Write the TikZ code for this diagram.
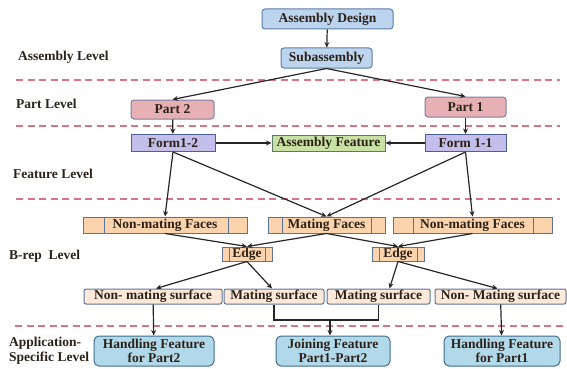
\documentclass[tikz,border=0pt]{standalone}
\usepackage{fontspec}
\setmainfont{Liberation Serif}
\usetikzlibrary{arrows.meta}
\definecolor{txt}{HTML}{2B2118}
\definecolor{dashc}{HTML}{D87585}
\definecolor{bluef}{HTML}{BCD4EE}\definecolor{blued}{HTML}{5D7EA6}
\definecolor{partf}{HTML}{E6B0B4}\definecolor{partd}{HTML}{7B7FA6}
\definecolor{formf}{HTML}{C3BFEA}\definecolor{formd}{HTML}{4D5F96}
\definecolor{aff}{HTML}{C8E2A4}\definecolor{afd}{HTML}{5E7B6A}
\definecolor{facef}{HTML}{FBD4AE}\definecolor{faced}{HTML}{5C7396}
\definecolor{surff}{HTML}{FDE9DA}
\definecolor{appf}{HTML}{B2D9EA}\definecolor{appd}{HTML}{3F6D8C}
\tikzset{
  box/.style={draw, line width=1pt, inner sep=0pt, text=txt,
    font=\fontsize{13.5}{14}\selectfont\bfseries, align=center},
  topbox/.style={box, fill=bluef, draw=blued, rounded corners=3pt},
  partbox/.style={box, fill=partf, draw=partd, rounded corners=3pt},
  formbox/.style={box, fill=formf, draw=formd},
  afbox/.style={box, fill=aff, draw=afd},
  facebox/.style={box, fill=facef, draw=faced},
  surfbox/.style={box, fill=surff, draw=faced, rounded corners=2pt},
  appbox/.style={box, fill=appf, draw=appd, rounded corners=5pt, font=\fontsize{13.5}{14.5}\selectfont\bfseries},
  cells/.style 2 args={path picture={
    \draw[faced, line width=1pt]
      ([xshift=#1]path picture bounding box.north west) -- ([xshift=#1]path picture bounding box.south west)
      ([xshift=-#2]path picture bounding box.north east) -- ([xshift=-#2]path picture bounding box.south east);}},
  lvl/.style={anchor=west, text=txt, font=\fontsize{13.5}{15}\selectfont\bfseries, align=left, inner sep=0pt},
  sep/.style={dashc, line width=1.6pt, dash pattern=on 7pt off 4.5pt},
  arr/.style={-{Stealth[length=5.5pt,width=5pt]}, line width=1.2pt, black!85}
}
\begin{document}
\begin{tikzpicture}[x=1pt, y=-1pt]
\useasboundingbox (0,0) rectangle (567,369);
% separators
\draw[sep] (16,80) -- (560,80);
\draw[sep] (16,126) -- (560,126);
\draw[sep] (16,199) -- (560,199);
\draw[sep] (15,326) -- (567,326);
% level labels
\node[lvl] (l1) at (18,57) {Assembly Level};
\node[lvl] (l2) at (16,104) {Part Level};
\node[lvl] (l3) at (13,174) {Feature Level};
\node[lvl] (l4) at (9,256) {B-rep\ \ Level};
\node[lvl] (l5) at (9,351) {Application-\\Specific Level};
% nodes
\node[topbox, minimum width=131pt, minimum height=20pt] (ad) at (327.5,19) {Assembly Design};
\node[topbox, minimum width=91pt, minimum height=20pt] (sub) at (326.5,58) {Subassembly};
\node[partbox, minimum width=83pt, minimum height=19pt] (p2) at (172.5,109.5) {Part 2};
\node[partbox, minimum width=81pt, minimum height=20pt] (p1) at (465.5,107) {Part 1};
\node[formbox, minimum width=84pt, minimum height=17pt] (f12) at (173,143) {Form1-2};
\node[afbox, minimum width=113pt, minimum height=16pt] (af) at (328.5,143) {Assembly Feature};
\node[formbox, minimum width=81pt, minimum height=17pt] (f11) at (465.5,143) {Form 1-1};
\node[facebox, cells={21pt}{19pt}, minimum width=164pt, minimum height=16pt] (nmfL) at (165,225) {Non-mating Faces};
\node[facebox, cells={14pt}{14pt}, minimum width=117pt, minimum height=16pt] (mf) at (326.5,225) {Mating Faces};
\node[facebox, cells={20pt}{19pt}, minimum width=159pt, minimum height=16pt] (nmfR) at (472.5,225) {Non-mating Faces};
\node[facebox, cells={7pt}{7pt}, minimum width=50pt, minimum height=14pt] (eL) at (247,254) {Edge};
\node[facebox, cells={7pt}{7pt}, minimum width=52pt, minimum height=14pt] (eR) at (398,254) {Edge};
\node[surfbox, minimum width=138pt, minimum height=15pt] (nmsL) at (153,296.5) {Non- mating surface};
\node[surfbox, minimum width=100pt, minimum height=15pt] (msL) at (274,296.5) {Mating surface};
\node[surfbox, minimum width=103pt, minimum height=15pt] (msR) at (378.5,296.5) {Mating surface};
\node[surfbox, minimum width=131pt, minimum height=15pt] (nmsR) at (500.5,296.5) {Non- Mating surface};
\node[appbox, minimum width=120pt, minimum height=30pt] (hf2) at (154,351) {Handling Feature\\for Part2};
\node[appbox, minimum width=114pt, minimum height=30pt] (jf) at (333,351) {Joining Feature\\Part1-Part2};
\node[appbox, minimum width=116pt, minimum height=30pt] (hf1) at (502,351) {Handling Feature\\for Part1};
% connectors
\draw[arr] (ad) -- (sub);
\draw[arr] (sub.south) -- (p2.north);
\draw[arr] (sub.south) -- (p1.north);
\draw[arr] (p2) -- (f12);
\draw[arr] (p1) -- (f11);
\draw[arr] (f12) -- (af);
\draw[arr] (f11) -- (af);
\draw[arr] (f12.south) -- (nmfL.north);
\draw[arr] (f12.south) -- (mf.north);
\draw[arr] (f11.south) -- (mf.north);
\draw[arr] (f11.south) -- (nmfR.north);
\draw[arr] (nmfL.south) -- (eL.north);
\draw[arr] (mf.south) -- (eL.north);
\draw[arr] (mf.south) -- (eR.north);
\draw[arr] (nmfR.south) -- (eR.north);
\draw[arr] (eL.south) -- ([xshift=3pt]nmsL.north);
\draw[arr] (eL.south) -- ([xshift=-2pt]msL.north);
\draw[arr] (eR.south) -- ([xshift=11pt]msR.north);
\draw[arr] (eR.south) -- ([xshift=-3pt]nmsR.north);
\draw[arr] (nmsL) -- (hf2);
\draw[arr] (nmsR) -- (hf1);
\coordinate (jn) at (330,320);
\draw[line width=1.2pt, black!85] (msL.south) |- (jn) -| (msR.south);
\draw[arr] (jn) -- (jn |- jf.north);
\end{tikzpicture}
\end{document}
